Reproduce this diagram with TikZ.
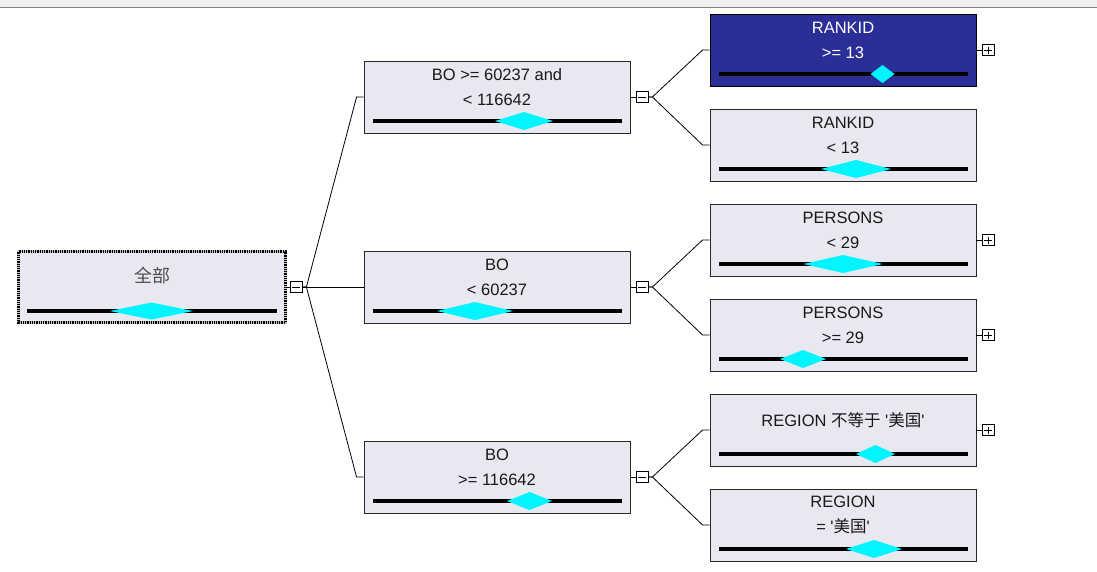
\documentclass[tikz,border=0pt]{standalone}
\usepackage{fontspec}
\setmainfont{Liberation Sans}[Ligatures=TeXOff]
\newfontfamily\cjk{Noto Sans CJK SC}
\usetikzlibrary{calc}
\definecolor{nodefill}{RGB}{232,232,240}
\definecolor{selblue}{RGB}{43,46,150}
\definecolor{diam}{RGB}{0,245,255}
\definecolor{topgray}{RGB}{240,240,240}
\definecolor{lineg}{RGB}{128,128,128}
\definecolor{edgec}{RGB}{40,40,40}
\definecolor{textc}{RGB}{25,25,25}
\newcommand{\gauge}[3]{% #1 node center x, #2 node center y, #3 unused
  \draw[bar] ({#1-124},{#2+24}) -- ({#1+125},{#2+24});
}
\newcommand{\diamondmark}[4]{% #1 cx, #2 bar y, #3 half width, #4 half height
  \fill[diam] ({#1-#3},#2) -- (#1,{#2-#4}) -- ({#1+#3},#2) -- (#1,{#2+#4}) -- cycle;
}
\begin{document}
\begin{tikzpicture}[x=1pt,y=-1pt,
  box/.style={draw=edgec, fill=nodefill, minimum width=266, minimum height=72, inner sep=0, line width=0.9},
  selbox/.style={box, fill=selblue, draw=black},
  txt/.style={align=center, inner sep=0, text=textc, font=\fontsize{16.5}{25}\selectfont},
  bar/.style={line width=4, black},
  link/.style={draw=black, line width=0.8},
  cbox/.style={draw=black, fill=white, minimum width=12, minimum height=11, inner sep=0, line width=0.8},
  minusbox/.style={cbox, path picture={\draw[line width=0.8] ([xshift=2.2]path picture bounding box.west) -- ([xshift=-2.2]path picture bounding box.east);}},
  plusbox/.style={cbox, path picture={\draw[line width=0.8] ([xshift=2.2]path picture bounding box.west) -- ([xshift=-2.2]path picture bounding box.east);
     \draw[line width=0.8] ([yshift=-2]path picture bounding box.north) -- ([yshift=2]path picture bounding box.south);}}
]
\useasboundingbox (0,0) rectangle (1097,571);
\fill[white] (0,0) rectangle (1097,571);
% top window strip
\fill[topgray] (0,0) rectangle (1097,7);
\draw[lineg, line width=1.5] (0,7.5) -- (1097,7.5);

% ---------- root ----------
\node[draw=none, fill=nodefill, minimum width=267, minimum height=71, inner sep=0] (root) at (152,287) {};
\draw[line width=3, gray!45] (18.5,251.5) rectangle (285.5,322.5);
\draw[line width=3, black, dash pattern=on 0.9pt off 0.9pt] (18.5,251.5) rectangle (285.5,322.5);
\node[txt, font=\cjk\fontsize{18}{25}\selectfont, text=black!70] (roott) at (152,275.5) {全部};
\draw[bar] (27,311) -- (277,311);
\diamondmark{151.5}{311}{41.5}{8.5}

% ---------- middle level ----------
\node[box] (m1) at (497,97) {};
\node[box] (m2) at (497,287) {};
\node[box] (m3) at (497,477) {};
\node[txt] (m1t) at (497,87.5) {BO >= 60237 and\\< 116642};
\node[txt] (m2t) at (497,277.5) {BO\\< 60237};
\node[txt] (m3t) at (497,467.5) {BO\\>= 116642};
\gauge{497}{97}{0}
\diamondmark{524}{121}{29}{9}
\gauge{497}{287}{0}
\diamondmark{475}{311}{38}{9}
\gauge{497}{477}{0}
\diamondmark{529.5}{501}{22.5}{9}

% ---------- right level ----------
\node[selbox] (r1) at (843,50) {};
\node[box] (r2) at (843,145) {};
\node[box] (r3) at (843,240) {};
\node[box] (r4) at (843,335) {};
\node[box] (r5) at (843,430) {};
\node[box] (r6) at (843,525) {};
\node[txt, text=white] (r1t) at (843,40.5) {RANKID\\>= 13};
\node[txt] (r2t) at (843,135.5) {RANKID\\< 13};
\node[txt] (r3t) at (843,230.5) {PERSONS\\< 29};
\node[txt] (r4t) at (843,325.5) {PERSONS\\>= 29};
\node[txt] (r5t) at (843,420.5) {REGION {\cjk 不等于} '{\cjk 美国}'};
\node[txt] (r6t) at (843,514.5) {REGION\\= '{\cjk 美国}'};
\gauge{843}{50}{0}
\diamondmark{882.5}{74}{12}{9}
\gauge{843}{145}{0}
\diamondmark{856}{169}{35}{9}
\gauge{843}{240}{0}
\diamondmark{843}{264}{39.5}{9}
\gauge{843}{335}{0}
\diamondmark{803}{359}{23}{9}
\gauge{843}{430}{0}
\diamondmark{875.5}{454}{19.5}{9}
\gauge{843}{525}{0}
\diamondmark{874}{549}{28}{9}

% ---------- expand / collapse boxes ----------
\node[minusbox] (c0) at (296,287) {};
\node[minusbox] (c1) at (642,97) {};
\node[minusbox] (c2) at (642,287) {};
\node[minusbox] (c3) at (642,477) {};
\node[plusbox] (p1) at (988,50) {};
\node[plusbox] (p3) at (988,240) {};
\node[plusbox] (p4) at (988,335) {};
\node[plusbox] (p5) at (988,430) {};

\draw[link] (root.east) -- (c0.west);
\draw[link] (m1.east) -- (c1.west);
\draw[link] (m2.east) -- (c2.west);
\draw[link] (m3.east) -- (c3.west);
\draw[link] (r1.east) -- (p1.west);
\draw[link] (r3.east) -- (p3.west);
\draw[link] (r4.east) -- (p4.west);
\draw[link] (r5.east) -- (p5.west);

% ---------- connectors ----------
\draw[link] (c0.east) -- ++(4,0) -- ([xshift=-7]m1.west) -- (m1.west);
\draw[link] (c0.east) -- (m2.west);
\draw[link] (c0.east) -- ++(4,0) -- ([xshift=-7]m3.west) -- (m3.west);
\draw[link] (c1.east) -- ++(4,0) -- ([xshift=-7]r1.west) -- (r1.west);
\draw[link] (c1.east) -- ++(4,0) -- ([xshift=-7]r2.west) -- (r2.west);
\draw[link] (c2.east) -- ++(4,0) -- ([xshift=-7]r3.west) -- (r3.west);
\draw[link] (c2.east) -- ++(4,0) -- ([xshift=-7]r4.west) -- (r4.west);
\draw[link] (c3.east) -- ++(4,0) -- ([xshift=-7]r5.west) -- (r5.west);
\draw[link] (c3.east) -- ++(4,0) -- ([xshift=-7]r6.west) -- (r6.west);
\end{tikzpicture}
\end{document}
